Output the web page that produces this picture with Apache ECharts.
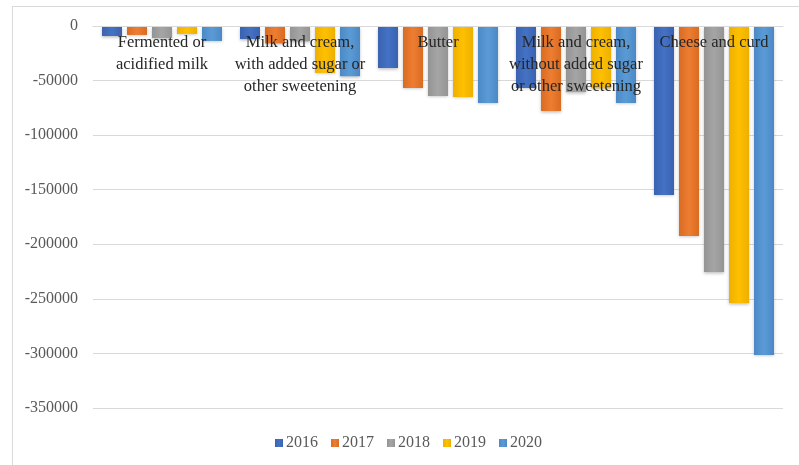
<!DOCTYPE html>
<html>
<head>
<meta charset="utf-8">
<script src="https://cdn.jsdelivr.net/npm/echarts@6/dist/echarts.min.js"></script>
<style>
  html, body { margin: 0; padding: 0; background: #ffffff; }
  #chart { width: 799px; height: 465px; }
</style>
</head>
<body>
<div id="chart"></div>
<script>
// Dairy trade balance by product group, 2016–2020
const categories = [
  'Fermented or\nacidified milk',
  'Milk and cream,\nwith added sugar or\nother sweetening',
  'Butter',
  'Milk and cream,\nwithout added sugar\nor other sweetening',
  'Cheese and curd'
];
const years = ['2016', '2017', '2018', '2019', '2020'];
const values2016 = [-9200, -12000, -38500, -56800, -154800];
const values2017 = [-8200, -16000, -56800, -77900, -192400];
const values2018 = [-11000, -14000, -64100, -60500, -225400];
const values2019 = [-7300, -43000, -65000, -57000, -253800];
const values2020 = [-13700, -46000, -70500, -70500, -301400];
const yTicks = { min: -350000, max: 0, interval: 50000 };

const seriesValues = [values2016, values2017, values2018, values2019, values2020];
const colors = ['#4472C4', '#ED7D31', '#A5A5A5', '#FFC000', '#5B9BD5'];
const shades = ['#3A62B0', '#D96C22', '#949494', '#EDB000', '#4A89C6'];
const serif = '"Liberation Serif", "DejaVu Serif", serif';

const chart = echarts.init(document.getElementById('chart'), null, { renderer: 'canvas' });

chart.setOption({
  animation: false,
  backgroundColor: '#ffffff',
  graphic: [{
    type: 'rect',
    shape: { x: 12.5, y: 6.5, width: 800, height: 470 },
    style: { fill: 'none', stroke: '#d9d9d9', lineWidth: 1 },
    silent: true,
    z: -10
  }],
  grid: { left: 93, right: 16, top: 26, bottom: 57, containLabel: false },
  legend: {
    data: years,
    left: 270,
    top: 430,
    icon: 'rect',
    itemWidth: 8,
    itemHeight: 8,
    itemGap: 13,
    textStyle: { fontFamily: serif, fontSize: 16, color: '#595959', padding: [0, 0, 0, -2] }
  },
  xAxis: {
    type: 'category',
    data: categories,
    position: 'top',
    z: 10,
    axisLine: { show: true, lineStyle: { color: '#d9d9d9', width: 1 } },
    axisTick: { show: false },
    axisLabel: {
      inside: true,
      margin: 6,
      interval: 0,
      verticalAlign: 'top',
      fontFamily: serif,
      fontSize: 16.5,
      lineHeight: 22,
      color: '#262626'
    },
    splitLine: { show: false }
  },
  yAxis: {
    type: 'value',
    min: yTicks.min,
    max: yTicks.max,
    interval: yTicks.interval,
    axisLine: { show: false },
    axisTick: { show: false },
    axisLabel: {
      fontFamily: serif,
      fontSize: 16,
      color: '#595959',
      margin: 15,
      formatter: v => String(v)
    },
    splitLine: { lineStyle: { color: '#d9d9d9', width: 1 } }
  },
  series: years.map((y, i) => ({
    name: y,
    type: 'bar',
    data: seriesValues[i],
    barWidth: 20,
    barGap: '25%',
    itemStyle: {
      color: new echarts.graphic.LinearGradient(0, 0, 1, 0, [
        { offset: 0, color: shades[i] },
        { offset: 0.5, color: colors[i] },
        { offset: 1, color: shades[i] }
      ]),
      shadowBlur: 3,
      shadowColor: 'rgba(0,0,0,0.25)',
      shadowOffsetY: 1.5
    }
  }))
});
</script>
</body>
</html>
